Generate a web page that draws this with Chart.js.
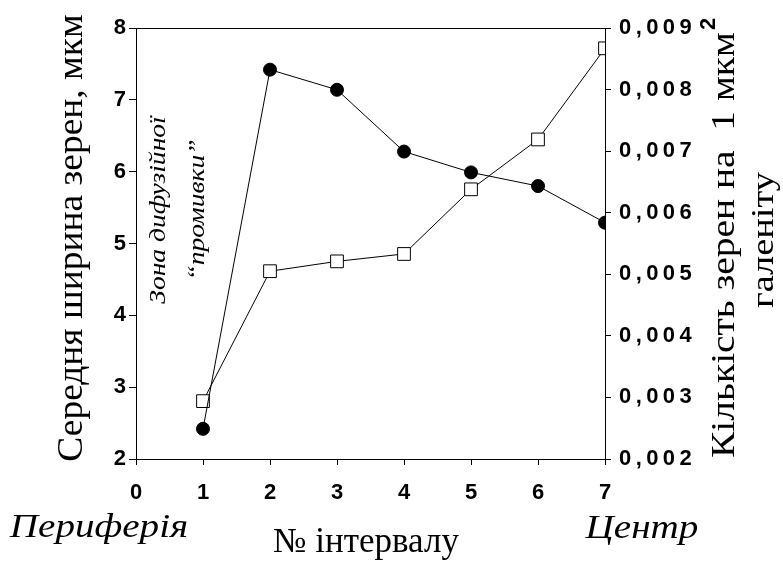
<!DOCTYPE html>
<html>
<head>
<meta charset="utf-8">
<script src="https://cdn.jsdelivr.net/npm/chart.js@4.4.1/dist/chart.umd.min.js"></script>
<style>
  html, body { margin: 0; padding: 0; background: #fff; }
  #wrap { width: 783px; height: 563px; }
</style>
</head>
<body>
<div id="wrap"><canvas id="myChart" width="783" height="563"></canvas></div>
<script>
// interval numbers
const intervals = [1, 2, 3, 4, 5, 6, 7];
// mean grain width, мкм (left axis, filled circles)
const grainWidth = [2.42, 7.42, 7.14, 6.28, 5.99, 5.80, 5.29];
// grain count per 1 мкм² (right axis, open squares)
const grainCount = [0.00294, 0.00505, 0.00521, 0.00533, 0.00638, 0.00719, 0.00867];

const leftTitle = 'Середня ширина зерен, мкм';
const rightTitle = ['Кількість зерен на  1 мкм', 'галеніту'];
const bottomTitle = '№ інтервалу';
const leftNote = 'Периферія';
const rightNote = 'Центр';
const zoneNote = ['Зона дифузійної', '“промивки”'];

const spaced = (s) => s.split('').join('\u2009');

const toPoints = (ys) => intervals.map((x, i) => ({ x: x, y: ys[i] }));

// text drawn at (x, y), optionally rotated, stretched along its own direction
const drawText = (ctx, text, x, y, font, rotate, stretch) => {
    ctx.save();
    ctx.translate(x, y);
    if (rotate) ctx.rotate(-Math.PI / 2);
    ctx.scale(stretch || 1, 1);
    ctx.font = font;
    ctx.fillText(text, 0, 0);
    ctx.restore();
};

// extra text + frame top
const extras = {
    id: 'extras',
    afterDraw(chart) {
        const ctx = chart.ctx;
        const a = chart.chartArea;
        ctx.save();
        ctx.strokeStyle = '#000';
        ctx.lineWidth = 1;
        ctx.beginPath();
        ctx.moveTo(a.left, a.top + 0.5);
        ctx.lineTo(a.right, a.top + 0.5);
        ctx.stroke();

        ctx.fillStyle = '#000';
        ctx.textAlign = 'center';
        ctx.textBaseline = 'middle';

        // axis titles
        drawText(ctx, leftTitle, 73, 238, '36px "Liberation Serif"', true, 1.04);
        drawText(ctx, rightTitle[0], 725, 245, '34px "Liberation Serif"', true, 1.16);
        drawText(ctx, '2', 709, 24, 'bold 22px "Liberation Sans"', true, 1);
        drawText(ctx, rightTitle[1], 765, 240, '32px "Liberation Serif"', true, 1.2);

        // zone annotation
        drawText(ctx, zoneNote[0], 159, 210, 'italic 23px "Liberation Serif"', true, 1.2);
        drawText(ctx, zoneNote[1], 198, 210, 'italic 23px "Liberation Serif"', true, 1.2);

        // bottom texts
        ctx.textBaseline = 'alphabetic';
        drawText(ctx, leftNote, 99, 537, 'italic 34px "Liberation Serif"', false, 1.15);
        drawText(ctx, rightNote, 642, 538, 'italic 34px "Liberation Serif"', false, 1.15);
        drawText(ctx, bottomTitle, 366, 552, '35px "Liberation Serif"', false, 1);
        ctx.restore();
    }
};

const tickFont = { family: '"Liberation Sans"', size: 22, weight: 'bold' };

new Chart(document.getElementById('myChart'), {
    type: 'line',
    data: {
        datasets: [{
            data: toPoints(grainWidth),
            yAxisID: 'y',
            borderColor: '#000',
            borderWidth: 1,
            backgroundColor: '#000',
            pointStyle: 'circle',
            pointRadius: 6.5,
            pointBorderWidth: 1,
            pointBorderColor: '#000',
            pointBackgroundColor: '#000'
        }, {
            data: toPoints(grainCount),
            yAxisID: 'y1',
            borderColor: '#000',
            borderWidth: 1,
            pointStyle: 'rect',
            pointRadius: 9,
            pointBorderWidth: 1,
            pointBorderColor: '#000',
            pointBackgroundColor: '#fff'
        }]
    },
    options: {
        responsive: false,
        animation: false,
        layout: { padding: { top: 28, left: 0, right: 0, bottom: 0 } },
        scales: {
            x: {
                type: 'linear',
                min: 0,
                max: 7,
                afterFit: (s) => { s.height = 104; },
                border: { display: true, color: '#000', width: 1 },
                grid: { display: true, drawOnChartArea: false, drawTicks: true, tickLength: 6, color: '#000' },
                ticks: { stepSize: 1, color: '#000', font: tickFont, padding: 15 }
            },
            y: {
                position: 'left',
                min: 2,
                max: 8,
                afterFit: (s) => { s.width = 136; },
                border: { display: true, color: '#000', width: 1 },
                grid: { display: true, drawOnChartArea: false, drawTicks: true, tickLength: 7, color: '#000' },
                ticks: { stepSize: 1, color: '#000', font: tickFont, padding: 3 }
            },
            y1: {
                position: 'right',
                min: 0.002,
                max: 0.009,
                afterFit: (s) => { s.width = 178; },
                border: { display: true, color: '#000', width: 1 },
                grid: { display: true, drawOnChartArea: false, drawTicks: true, tickLength: 6, color: '#000' },
                ticks: {
                    stepSize: 0.001,
                    color: '#000',
                    font: tickFont,
                    padding: 8,
                    callback: (v) => spaced(v.toFixed(3).replace('.', ','))
                }
            }
        },
        plugins: {
            legend: { display: false },
            tooltip: { enabled: false }
        }
    },
    plugins: [extras]
});
</script>
</body>
</html>
